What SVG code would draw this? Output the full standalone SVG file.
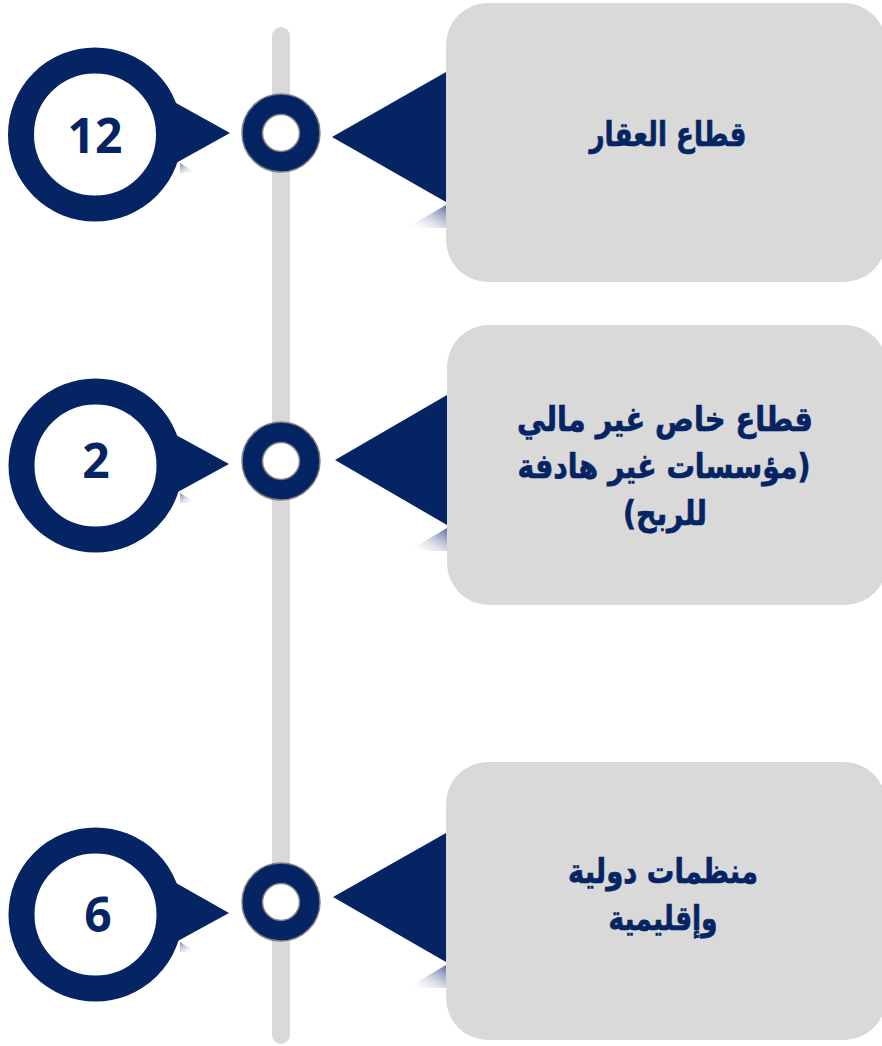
<svg xmlns="http://www.w3.org/2000/svg" width="882" height="1046" viewBox="0 0 882 1046">
  <defs>
    <linearGradient id="shR" x1="1" y1="0" x2="0" y2="1">
      <stop offset="0" stop-color="#3c4f86" stop-opacity="0.85"/>
      <stop offset="1" stop-color="#ffffff" stop-opacity="0"/>
    </linearGradient>
    <linearGradient id="shL" x1="0" y1="0" x2="1" y2="1">
      <stop offset="0" stop-color="#3c4f86" stop-opacity="0.7"/>
      <stop offset="1" stop-color="#ffffff" stop-opacity="0"/>
    </linearGradient>
    <style>
      .navy { fill: #052463; }
      .bigring { fill: #ffffff; stroke: #052463; stroke-width: 26; }
      .markOuter { fill: #052463; stroke: #808080; stroke-width: 1.5; }
      .markInner { fill: #ffffff; stroke: #808080; stroke-width: 1.5; }
      .box { fill: #d9d9d9; }
      .num { font-family: "Open Sans", "Liberation Sans", sans-serif; font-weight: 700; font-size: 48px; fill: #052463; text-anchor: middle; }
      .lbl { font-family: "DejaVu Sans", "Noto Sans", sans-serif; font-weight: 700; font-size: 34px; fill: #052463; stroke: #052463; stroke-width: 0.7; text-anchor: middle; direction: rtl; }
    </style>
  </defs>

  <g id="connectors">
    <rect x="272" y="27" width="18" height="1017" rx="9" ry="9" fill="#d9d9d9"/>
  </g>

  <!-- Row 1 -->
  <g id="num-1">
    <polygon class="navy" points="176,103 230,133 176,163"/>
    <polygon fill="url(#shL)" points="180,163 196,173 180,173"/>
    <circle class="bigring" cx="95" cy="134.5" r="74"/>
    <text class="num" x="95" y="153">12</text>
  </g>
  <g id="marker-1">
    <circle class="markOuter" cx="281" cy="133" r="39"/>
    <circle class="markInner" cx="281" cy="133" r="18.5"/>
  </g>
  <g id="box-1">
    <polygon fill="url(#shR)" points="446,205 446,228 406,228"/>
    <polygon class="navy" points="332,137 446,72 446,202"/>
    <rect class="box" x="446" y="3" width="440" height="279" rx="42" ry="42"/>
    <text class="lbl" x="668" y="146" textLength="157" lengthAdjust="spacingAndGlyphs">قطاع العقار</text>
  </g>

  <!-- Row 2 -->
  <g id="num-2">
    <polygon class="navy" points="176,435 229,464 176,493"/>
    <polygon fill="url(#shL)" points="180,493 196,503 180,503"/>
    <circle class="bigring" cx="95.5" cy="465.5" r="74"/>
    <text class="num" x="96" y="478">2</text>
  </g>
  <g id="marker-2">
    <circle class="markOuter" cx="281" cy="461" r="39"/>
    <circle class="markInner" cx="281" cy="461" r="18.5"/>
  </g>
  <g id="box-2">
    <polygon fill="url(#shR)" points="447,528 447,551 408,551"/>
    <polygon class="navy" points="335,460 447,395 447,525"/>
    <rect class="box" x="447" y="325" width="440" height="280" rx="42" ry="42"/>
    <text class="lbl" x="665" y="431" textLength="296" lengthAdjust="spacingAndGlyphs">قطاع خاص غير مالي</text>
    <text class="lbl" x="664" y="478" textLength="293" lengthAdjust="spacingAndGlyphs">(مؤسسات غير هادفة</text>
    <text class="lbl" x="665" y="525" textLength="84" lengthAdjust="spacingAndGlyphs">للربح)</text>
  </g>

  <!-- Row 3 -->
  <g id="num-3">
    <polygon class="navy" points="176,883 229,913 176,942"/>
    <polygon fill="url(#shL)" points="180,942 196,952 180,952"/>
    <circle class="bigring" cx="95.5" cy="914.5" r="74"/>
    <text class="num" x="98" y="932">6</text>
  </g>
  <g id="marker-3">
    <circle class="markOuter" cx="281" cy="902" r="39"/>
    <circle class="markInner" cx="281" cy="902" r="18.5"/>
  </g>
  <g id="box-3">
    <polygon fill="url(#shR)" points="446,965 446,988 407,988"/>
    <polygon class="navy" points="333,897 446,833 446,962"/>
    <rect class="box" x="446" y="762" width="440" height="278" rx="42" ry="42"/>
    <text class="lbl" x="663" y="883" textLength="190" lengthAdjust="spacingAndGlyphs">منظمات دولية</text>
    <text class="lbl" x="663" y="930" textLength="109" lengthAdjust="spacingAndGlyphs">وإقليمية</text>
  </g>
</svg>
